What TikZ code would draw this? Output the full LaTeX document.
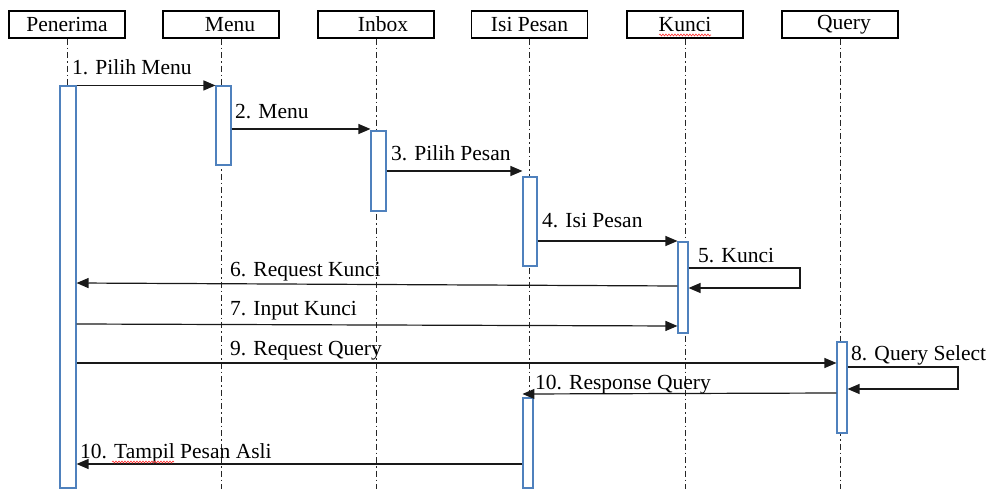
\documentclass[tikz,border=0pt]{standalone}
\usepackage{fontspec}
\setmainfont{Liberation Serif}
\usetikzlibrary{arrows.meta,decorations.pathmorphing}
\definecolor{actblue}{RGB}{79,129,189}
\begin{document}
\begin{tikzpicture}[x=1pt,y=-1pt,
  head/.style={draw, line width=1.4pt, minimum width=116pt, minimum height=27pt, inner sep=0pt,
               font=\fontsize{21.5}{24}\selectfont},
  act/.style={draw=actblue, fill=white, line width=1.1pt, inner sep=0pt},
  life/.style={draw=black!85, line width=0.9pt, dash pattern=on 6pt off 3pt on 1.5pt off 3pt},
  msg/.style={draw=black!90, line width=1.2pt, -{Triangle[length=12pt,width=10pt]}},
  lbl/.style={anchor=base west, inner sep=0pt, font=\fontsize{21.5}{24}\selectfont},
  spell/.style={draw=red!80, line width=0.6pt, decorate,
                decoration={snake, amplitude=1pt, segment length=3pt}}]
\useasboundingbox (0,0) rectangle (994,489);

% participants
\node[head] (hP) at (67,24.5)   {Penerima};
\node[head] (hM) at (221,24.5)  {\hspace*{18pt}Menu};
\node[head] (hI) at (376,24.5)  {\hspace*{14pt}Inbox};
\node[head] (hS) at (529.5,24.5) {Isi Pesan};
\node[head] (hK) at (685,24.5)  {Kunci};
\node[head] (hQ) at (840,24.5)  {\hspace*{8pt}Query};

% lifelines
\foreach \h in {hP,hM,hI,hS,hK,hQ}
  \draw[life] (\h.south) -- (\h.south |- 0,489);

% activation bars
\node[act, minimum width=16pt, minimum height=402pt] (aP)  at (68,287)    {};
\node[act, minimum width=15pt, minimum height=79pt]  (aM)  at (223.5,125.5) {};
\node[act, minimum width=15pt, minimum height=80pt]  (aI)  at (378.5,171)  {};
\node[act, minimum width=14pt, minimum height=89pt]  (aS)  at (530,221.5)  {};
\node[act, minimum width=10pt, minimum height=91pt]  (aK)  at (683,287.5)  {};
\node[act, minimum width=10pt, minimum height=91pt]  (aQ)  at (842,387.5)  {};
\node[act, minimum width=10pt, minimum height=90pt]  (aS2) at (528,443)    {};

% messages
\draw[msg] (aP.north east) -- (aM.north west);
\draw[msg] (aM.east |- 0,129) -- (aI.west |- 0,129);
\draw[msg] (aI.east |- 0,171) -- (aS.west |- 0,171);
\draw[msg] (aS.east |- 0,241) -- (aK.west |- 0,241);
\draw[msg] (aK.east |- 0,268) -- (800,268) -- (800,288) -- (aK.east |- 0,288);
\draw[msg] (aK.west |- 0,286) -- (aP.east |- 0,283);
\draw[msg] (aP.east |- 0,324) -- (aK.west |- 0,326);
\draw[msg] (aP.east |- 0,363) -- (aQ.west |- 0,363);
\draw[msg] (aQ.east |- 0,367) -- (958,367) -- (958,389) -- (aQ.east |- 0,389);
\draw[msg] (aQ.west |- 0,393) -- (aS2.west |- 0,394);
\draw[msg] (aS2.west |- 0,464) -- (aP.east |- 0,464);

% message labels
\node[lbl] (l1)  at (72,75)   {1. Pilih Menu};
\node[lbl] (l2)  at (235,119) {2. Menu};
\node[lbl] (l3)  at (391,161) {3. Pilih Pesan};
\node[lbl] (l4)  at (542,228) {4. Isi Pesan};
\node[lbl] (l5)  at (698,263) {5. Kunci};
\node[lbl] (l6)  at (230,277) {6. Request Kunci};
\node[lbl] (l7)  at (230,316) {7. Input Kunci};
\node[lbl] (l9)  at (230,355) {9. Request Query};
\node[lbl] (l8)  at (851,360) {8. Query Select};
\node[lbl] (l10) at (535,389) {10. Response Query};
\node[lbl] (l11) at (80,458)  {10. Tampil Pesan Asli};

% spell-check underlines
\draw[spell] (659,35) -- (711,35);
\draw[spell] (112,462) -- (174,462);
\end{tikzpicture}
\end{document}
